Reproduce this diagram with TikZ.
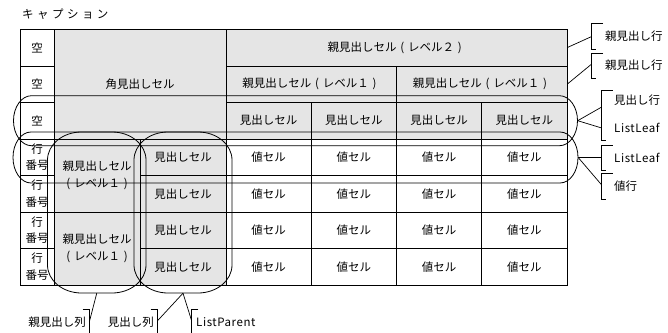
\documentclass[tikz,border=0pt]{standalone}
\usepackage{fontspec}
\setmainfont{Noto Sans CJK JP}
\newfontfamily\capfont[LetterSpace=30]{Noto Sans CJK JP}
\newfontfamily\latfont[LetterSpace=5]{Noto Sans CJK JP}
\newcommand{\lpar}{\makebox[1em]{(}}
\newcommand{\rpar}{\makebox[1em]{)}}
% cell: [style]{name}{x1}{y1}{x2}{y2}{text}
\newcommand{\tcell}[7][]{%
  \node[cellbox,#1,minimum width={(#5-#3)*1pt},minimum height={(#6-#4)*1pt}]
    (#2) at ({(#3+#5)/2},{(#4+#6)/2}) {#7};}
% rounded outline with elliptic corners: {name}{x1}{y1}{x2}{y2}{rx}{ry}
\newcommand{\stad}[7]{%
  \path ({(#2+#4)/2},{(#3+#5)/2}) node[inner sep=0pt,minimum width={(#4-#2)*1pt},minimum height={(#5-#3)*1pt}] (#1) {};
  \draw[ovl] ({#2+#6},#3) -- ({#4-#6},#3)
   .. controls ({#4-0.4477*#6},#3) and (#4,{#3+0.4477*#7}) .. (#4,{#3+#7})
   -- (#4,{#5-#7})
   .. controls (#4,{#5-0.4477*#7}) and ({#4-0.4477*#6},#5) .. ({#4-#6},#5)
   -- ({#2+#6},#5)
   .. controls ({#2+0.4477*#6},#5) and (#2,{#5-0.4477*#7}) .. (#2,{#5-#7})
   -- (#2,{#3+#7})
   .. controls (#2,{#3+0.4477*#7}) and ({#2+0.4477*#6},#3) .. ({#2+#6},#3) -- cycle;}
\begin{document}
\begin{tikzpicture}[x=1pt,y=-1pt,
  every node/.style={font=\fontsize{11.5}{16.5}\selectfont},
  cellbox/.style={draw=black,line width=0.8pt,inner sep=0pt,align=center,fill=white},
  hd/.style={fill=black!10},
  ovl/.style={draw=black,line width=0.8pt},
  lead/.style={draw=black,line width=0.7pt},
  lbl/.style={anchor=west,inner sep=0pt}]
\useasboundingbox (0,0) rectangle (668,332);
\node[anchor=west,inner sep=0pt] (cap) at (22,14) {\capfont キャプション};
% header rows
\tcell{e1}{20}{29}{54}{66}{空}
\tcell{e2}{20}{66}{54}{102}{空}
\tcell{e3}{20}{102}{54}{139}{空}
\tcell[hd]{corner}{54}{29}{226}{139}{角見出しセル}
\tcell[hd]{p2}{226}{29}{567}{66}{親見出しセル\lpar レベル２\rpar}
\tcell[hd]{p1a}{226}{66}{396.5}{102}{親見出しセル\lpar レベル１\rpar}
\tcell[hd]{p1b}{396.5}{66}{567}{102}{親見出しセル\lpar レベル１\rpar}
\tcell[hd]{h1}{226}{102}{311.25}{139}{見出しセル}
\tcell[hd]{h2}{311.25}{102}{396.5}{139}{見出しセル}
\tcell[hd]{h3}{396.5}{102}{481.75}{139}{見出しセル}
\tcell[hd]{h4}{481.75}{102}{567}{139}{見出しセル}
% body
\tcell[hd]{pa}{54}{139}{140}{212}{親見出しセル\\\lpar レベル１\rpar}
\tcell[hd]{pb}{54}{212}{140}{285}{親見出しセル\\\lpar レベル１\rpar}
\foreach \r/\ya/\yb in {1/139/175.5,2/175.5/212,3/212/248.5,4/248.5/285}{
  \tcell{rn\r}{20}{\ya}{54}{\yb}{行\\番号}
  \tcell[hd]{hc\r}{140}{\ya}{226}{\yb}{見出しセル}
  \foreach \c/\xa/\xb in {1/226/311.25,2/311.25/396.5,3/396.5/481.75,4/481.75/567}{
    \tcell{v\r\c}{\xa}{\ya}{\xb}{\yb}{値セル}}}
% outlines
\stad{hrow}{13.5}{95.7}{577.5}{145.7}{18}{25}
\stad{vrow}{13}{132}{578}{183}{18}{25.5}
\stad{colA}{47.5}{132}{146}{293}{34}{28}
\stad{colB}{134}{132}{232}{293}{34}{28}
% right brackets
\draw[lead] (603,23.5) -| (591.7,49.5) -- (595.7,49.5);
\coordinate (b1) at (591.7,36.5);
\node[lbl] (t1) at (605,36.5) {親見出し行};
\draw[lead] (p2.east) -- (b1);
\draw[lead] (603,53) -| (591.7,78.5) -- (595.7,78.5);
\coordinate (b2) at (591.7,64);
\node[lbl] (t2) at (605,65.5) {親見出し行};
\draw[lead] (p1b.east) -- (b2);
\draw[lead] (612.7,90) -| (601.7,140) -- (605.7,140);
\coordinate (b3a) at (601.7,107);
\coordinate (b3b) at (601.7,128);
\node[lbl] (t3a) at (614,100) {見出し行};
\node[lbl] (t3b) at (614,128) {\latfont ListLeaf};
\draw[lead] (hrow.east) -- (b3a);
\draw[lead] (hrow.east) -- (b3b);
\draw[lead] (612.7,145.5) -| (601.7,170) -- (605.7,170);
\coordinate (b4) at (601.7,157.5);
\node[lbl] (t4) at (614,157.5) {\latfont ListLeaf};
\draw[lead] (vrow.east) -- (b4);
\draw[lead] (612.7,173.5) -| (601.7,199.5) -- (605.7,199.5);
\coordinate (b5) at (601.7,185);
\node[lbl] (t5) at (614,186) {値行};
\draw[lead] (vrow.east) -- (b5);
% bottom brackets
\draw[lead] (82.7,309.3) -| (89.3,335);
\coordinate (ba) at (89.3,322);
\node[anchor=east,inner sep=0pt] (ta) at (86,322) {親見出し列};
\draw[lead] (colA.south) -- (ba);
\draw[lead] (150.7,309.3) -| (157.3,335);
\coordinate (bb) at (157.3,321);
\node[anchor=east,inner sep=0pt] (tb) at (154,322) {見出し列};
\draw[lead] (colB.south) -- (bb);
\draw[lead] (198.3,309.3) -| (191.7,335);
\coordinate (bc) at (191.7,321);
\node[lbl] (tc) at (196,322) {\latfont ListParent};
\draw[lead] (colB.south) -- (bc);
\end{tikzpicture}
\end{document}
